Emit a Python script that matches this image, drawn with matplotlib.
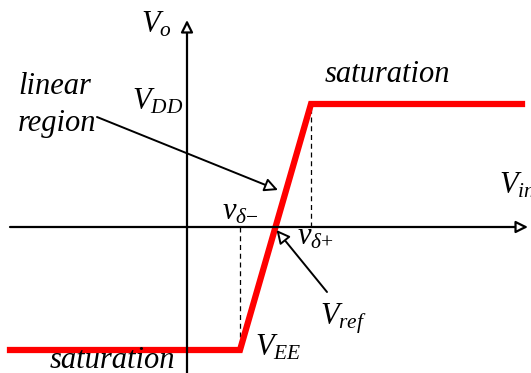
import matplotlib.pyplot as plt
import numpy as np

plt.rcParams['mathtext.fontset'] = 'custom'
plt.rcParams['mathtext.rm'] = 'Liberation Serif'
plt.rcParams['mathtext.it'] = 'Liberation Serif:italic'
plt.rcParams['font.family'] = 'Liberation Serif'

# transfer characteristic of the comparator
VDD = 12.3
VEE = -12.3
vd_minus = 5.3
vd_plus = 12.4
vin = [-17.7, vd_minus, vd_plus, 33.5]
vo = [VEE, VEE, VDD, VDD]
vref = vd_minus + (vd_plus - vd_minus) * (0 - VEE) / (VDD - VEE)

fig = plt.figure(figsize=(5.31, 3.73), dpi=100)
ax = fig.add_axes([0, 0, 1, 1])
ax.set_xlim(-18.7, 34.4)
ax.set_ylim(-14.6, 22.7)
ax.axis('off')

# axes with open arrow heads
ap = dict(arrowstyle='-|>', fc='white', ec='black', lw=1.6, mutation_scale=18, shrinkA=0, shrinkB=0)
ax.annotate('', xy=(0, 20.7), xytext=(0, -14.6), arrowprops=ap)
ax.annotate('', xy=(34.1, 0), xytext=(-17.7, 0), arrowprops=ap)

# dashed guides
ax.plot([vd_minus, vd_minus], [0, VEE], ls=(0, (4, 3)), color='black', lw=0.9)
ax.plot([vd_plus, vd_plus], [0, VDD], ls=(0, (4, 3)), color='black', lw=0.9)

ax.plot(vin, vo, color='red', lw=4.5, solid_joinstyle='miter')

fs = 22
ax.text(-1.5, 20.2, '$V_o$', fontsize=fs, ha='right', va='center')
ax.text(-0.4, 12.5, '$V_{DD}$', fontsize=fs, ha='right', va='center')
ax.text(-16.9, 14.1, 'linear', fontsize=fs, style='italic', ha='left', va='center')
ax.text(-16.9, 10.4, 'region', fontsize=fs, style='italic', ha='left', va='center')
ax.text(13.8, 15.3, 'saturation', fontsize=fs, style='italic', ha='left', va='center')
ax.text(-13.7, -13.3, 'saturation', fontsize=fs, style='italic', ha='left', va='center')
ax.text(31.2, 4.1, '$V_{in}$', fontsize=fs, ha='left', va='center', clip_on=False)
ax.text(3.5, 1.5, r'$v_{\delta\!-}$', fontsize=fs, ha='left', va='center')
ax.text(11.0, -1.0, r'$v_{\delta\!+}$', fontsize=fs, ha='left', va='center')
ax.text(13.3, -9.2, '$V_{ref}$', fontsize=fs, ha='left', va='center')
ax.text(6.8, -12.1, '$V_{EE}$', fontsize=fs, ha='left', va='center')

# pointers
ptr = dict(arrowstyle='-|>', fc='white', ec='black', lw=1.4, mutation_scale=20, shrinkA=0, shrinkB=0)
ax.annotate('', xy=(9.1, 3.7), xytext=(-9.0, 11.0), arrowprops=ptr)
ax.annotate('', xy=(vref + 0.1, -0.3), xytext=(14.0, -6.5), arrowprops=ptr)

fig.savefig('out.png', dpi=100)
